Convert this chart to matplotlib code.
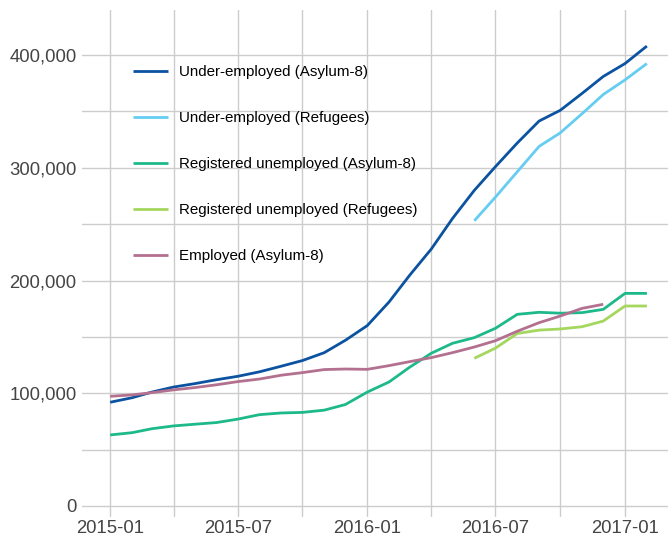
import datetime as dt
import matplotlib
matplotlib.use("Agg")
import matplotlib.pyplot as plt
import matplotlib.dates as mdates
from matplotlib.ticker import MultipleLocator, FuncFormatter

# monthly data, 2015-01 .. 2017-02
months = [dt.date(2015 + (i // 12), i % 12 + 1, 1) for i in range(26)]

under_asylum = [92000, 96000, 101000, 105500, 108500, 112000, 115000, 119000, 124000,
                129000, 136000, 147000, 160000, 181000, 204500, 228000, 255000, 280000,
                301000, 322000, 341500, 351000, 366000, 381000, 392500, 408000]
under_refugees = [253000, 274000, 296500, 319000, 331000, 348000, 365000, 378000, 392500]
unemp_asylum = [63000, 65000, 68500, 71000, 72500, 74000, 77000, 81000, 82500,
                83000, 85000, 90000, 101000, 110000, 123000, 135500, 144300, 149300,
                157600, 170000, 171800, 171000, 171500, 174400, 188600, 188600]
unemp_refugees = [131000, 140000, 153000, 156000, 157000, 159000, 164000, 177400, 177400]
employed_asylum = [97300, 98500, 100500, 103000, 105000, 107500, 110300, 112600, 116000,
                   118300, 121000, 121500, 121200, 124500, 128000, 131600, 136000, 141000,
                   146600, 155000, 162600, 168500, 175300, 178900]

series = [
    ("Under-employed (Asylum-8)", months, under_asylum, "#0b53a1"),
    ("Under-employed (Refugees)", months[17:], under_refugees, "#66cdf2"),
    ("Registered unemployed (Asylum-8)", months, unemp_asylum, "#1db98a"),
    ("Registered unemployed (Refugees)", months[17:], unemp_refugees, "#a5d65e"),
    ("Employed (Asylum-8)", months[:24], employed_asylum, "#b3708f"),
]

plt.rcParams['font.family'] = ['Liberation Sans', 'DejaVu Sans']

fig = plt.figure(figsize=(6.68, 5.39), dpi=100)
ax = fig.add_axes([82 / 668, 22 / 539, 586 / 668, 507 / 539])

for name, x, y, c in series:
    ax.plot(x, y, color=c, lw=2.0, label=name, solid_capstyle='butt')

ax.set_xlim(dt.date(2014, 11, 22), dt.date(2017, 3, 3))
ax.set_ylim(-9800, 440000)

ax.xaxis.set_major_locator(mdates.MonthLocator(bymonth=[1, 7]))
ax.xaxis.set_minor_locator(mdates.MonthLocator(bymonth=[4, 10]))
ax.xaxis.set_major_formatter(mdates.DateFormatter("%Y-%m"))
ax.yaxis.set_major_locator(MultipleLocator(100000))
ax.yaxis.set_minor_locator(MultipleLocator(50000))
ax.yaxis.set_major_formatter(FuncFormatter(lambda v, p: f"{int(v):,}"))

ax.grid(True, which='both', color='#cccccc', lw=1.0)
ax.set_axisbelow(True)
for s in ax.spines.values():
    s.set_visible(False)
ax.tick_params(which='both', length=0, labelsize=13.3, labelcolor='#444444')
ax.tick_params(axis='x', pad=2)
ax.tick_params(axis='y', pad=4)

ax.legend(loc='upper left', bbox_to_anchor=(133 / 668, 1 - 65 / 539),
          bbox_transform=fig.transFigure, frameon=False, fontsize=10.9,
          borderpad=0, borderaxespad=0, handlelength=2.3, handletextpad=0.72,
          labelspacing=2.12)

fig.savefig("out.png", dpi=100)
